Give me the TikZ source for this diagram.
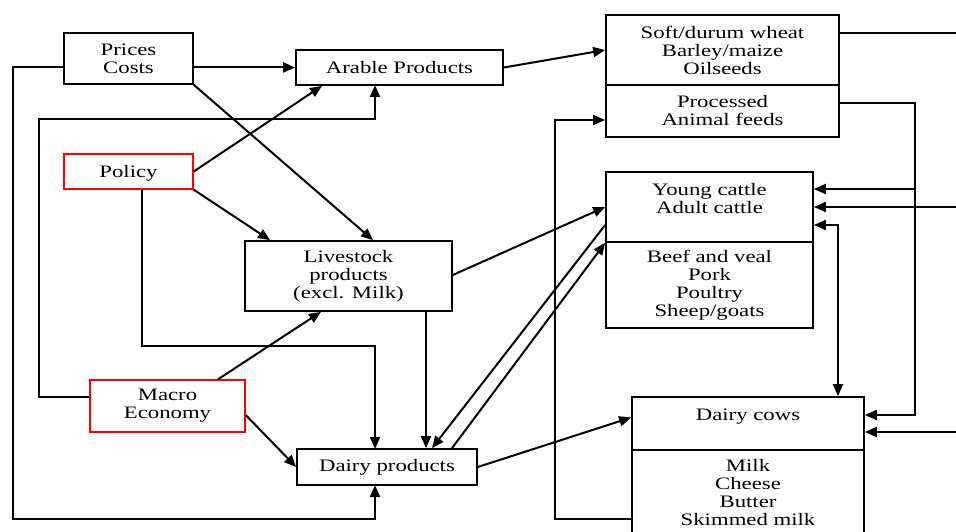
\documentclass[tikz,border=0pt]{standalone}
\usepackage{fontspec}
\setmainfont[FakeStretch=1.3]{Liberation Serif}
\usetikzlibrary{arrows.meta}

\begin{document}
\begin{tikzpicture}[x=1pt, y=-1pt,
  box/.style={draw, line width=1.7pt, align=center, inner sep=0pt,
    font=\fontsize{17.5}{18}\selectfont},
  redbox/.style={box, draw=red, line width=1.4pt},
  link/.style={line width=2pt, -{Triangle[length=12pt, width=10pt]}}]

  \useasboundingbox (0,0) rectangle (956,532);

  % --- 1. 左側の要因 ---
  \node[box, minimum width=129pt, minimum height=51pt] (prices) at (128.5,58.5) {Prices\\Costs};
  \node[redbox, minimum width=129pt, minimum height=35pt, text depth=0pt] (policy) at (128.5,171.5) {Policy};
  \node[redbox, minimum width=155pt, minimum height=52pt] (macro) at (167.5,406) {Macro\\Economy};

  % --- 2. 中央の製品 ---
  \node[box, minimum width=207pt, minimum height=35pt] (arable) at (399.5,67.5) {Arable Products};
  \node[box, minimum width=207pt, minimum height=70pt] (livestock) at (348.5,276) {Livestock\\products\\(excl. Milk)};
  \node[box, minimum width=180pt, minimum height=36pt] (dairy) at (387,467) {Dairy products};

  % --- 3. 右側の内訳 ---
  \node[box, minimum width=233pt, minimum height=70pt] (wheat) at (722.5,50) {Soft/durum wheat\\Barley/maize\\Oilseeds};
  \node[box, minimum width=233pt, minimum height=52pt] (feeds) at (722.5,111) {Processed\\Animal feeds};
  \node[box, minimum width=207pt, minimum height=70pt] (cattle) at (709.5,207) {Young cattle\\Adult cattle\\\mbox{}};
  \node[box, minimum width=207pt, minimum height=86pt] (meat) at (709.5,285) {Beef and veal\\Pork\\Poultry\\Sheep/goats};
  \node[box, minimum width=232pt, minimum height=53pt] (cows) at (748,423.5) {Dairy cows\\\mbox{}};
  \node[box, minimum width=232pt, minimum height=86pt] (milk) at (748,493) {Milk\\Cheese\\Butter\\Skimmed milk};

  \def\railX{375}

  % 価格・費用から
  \draw[link] (prices.east |- arable) -- (arable.west);
  \draw[link] (prices.south east) -- ([xshift=24.5pt]livestock.north);
  \draw[link] (prices.west |- arable) -- (13,67.5) -- (13,519) -| (\railX,485);

  % 政策から
  \draw[link] (policy.east) -- ([xshift=-77.5pt]arable.south);
  \draw[link] (policy.south east) -- ([xshift=-78.5pt]livestock.north);
  \draw[link] ([xshift=13.5pt]policy.south) -- (142,346) -| (\railX,449);

  % マクロ経済から
  \draw[link] ([yshift=9pt]macro.west) -- (39,397) -- (39,119) -| (\railX,85);
  \draw[link] ([xshift=50.5pt]macro.north) -- ([xshift=-27.5pt]livestock.south);
  \draw[link] ([yshift=-9pt]macro.east) -- (dairy.west);

  % 製品間
  \draw[link] (arable.east) -- (wheat.west);
  \draw[link] ([xshift=77.5pt]livestock.south) -- ([xshift=77.5pt]livestock.south |- dairy.north);
  \draw[link] ([yshift=1pt]livestock.east) -- (cattle.west);
  \draw[link] ([yshift=-18pt]cattle.west) -- ([xshift=45pt]dairy.north);
  \draw[link] ([xshift=65pt]dairy.north) -- (cattle.south west);
  \draw[link] (dairy.east) -- ([yshift=6pt]cows.west);

  % 右側の帰還線
  \draw[link] ([yshift=-26pt]milk.west) -- (555,519) -- (555,120) -- ([yshift=-9pt]feeds.west);
  \draw[link] ([yshift=8pt]feeds.east) -- (915,103) -- (915,415) -- ([yshift=8.5pt]cows.east);
  \draw[link] (915,189) -- ([yshift=18pt]cattle.east);
  \draw[link] ([yshift=17pt]wheat.east) -- (975,33) -- (975,432) -- ([yshift=-8.5pt]cows.east);
  \draw[link] (975,207) -- (cattle.east);
  \draw[link, {Triangle[length=12pt, width=10pt]}-{Triangle[length=12pt, width=10pt]}]
    ([yshift=-18pt]cattle.east) -- (838,225) -- ([xshift=90pt]cows.north);

\end{tikzpicture}
\end{document}
